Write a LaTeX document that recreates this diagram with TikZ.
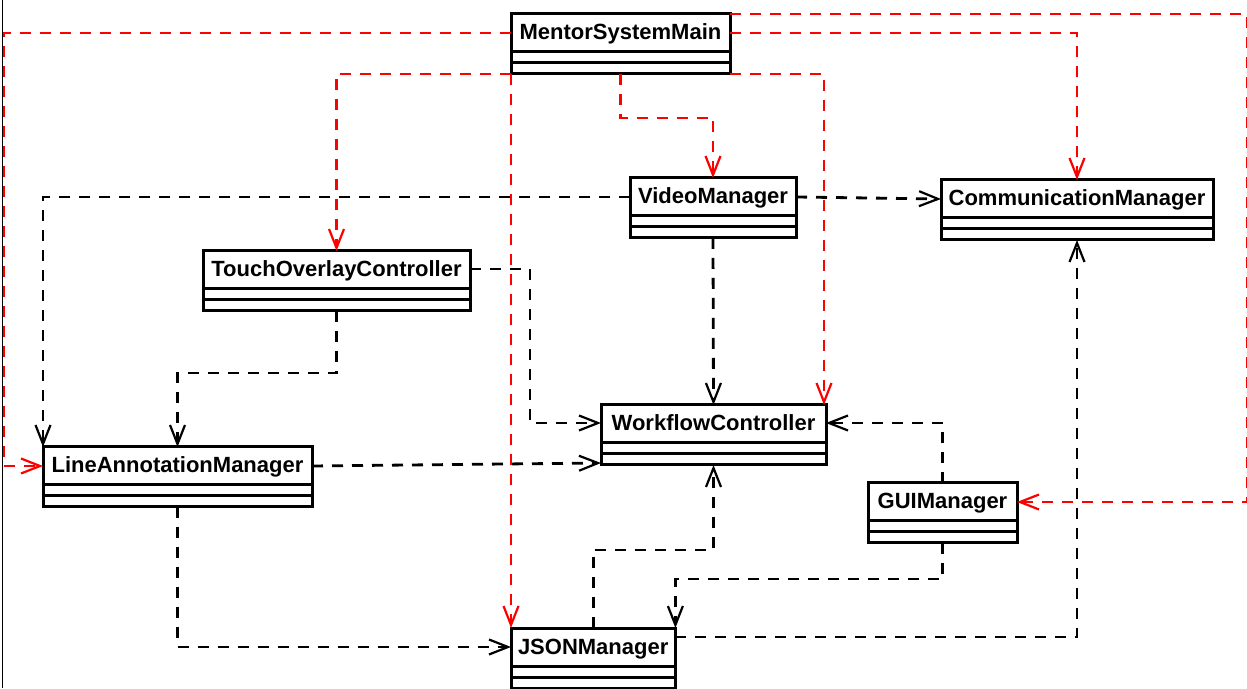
\documentclass[tikz,border=0pt]{standalone}
\usepackage{fontspec}
\setmainfont{Liberation Sans}
\usetikzlibrary{shapes.multipart,arrows.meta}
\newcommand\umlname[1]{\rule[-10.5pt]{0pt}{35pt}#1\nodepart{two}\nodepart{three}}
\tikzset{
    classbox/.style={rectangle split, rectangle split parts=3, draw, line width=3pt,
        inner xsep=7pt, inner ysep=0pt, outer sep=0pt, anchor=north west,
        rectangle split empty part height=8pt, rectangle split empty part depth=0pt,
        font=\fontsize{22}{26}\selectfont\bfseries},
    uses/.style={line width=2.8pt, dash pattern=on 11pt off 9pt,
        -{Straight Barb[length=19pt,width=15pt,line width=2.2pt]}},
    creates/.style={uses, red},
}
\begin{document}
\begin{tikzpicture}[x=1pt,y=1pt]
    \useasboundingbox (0,0) rectangle (1247,688);
    \draw[line width=1pt] (2.5,0) -- (2.5,688);
    %% classes
    \node[classbox, minimum width=219pt] (msm) at (511,674) {\umlname{MentorSystemMain}};
    \node[classbox, minimum width=166pt] (vm) at (630,510) {\umlname{VideoManager}};
    \node[classbox, minimum width=272pt] (cm) at (941,508) {\umlname{CommunicationManager}};
    \node[classbox, minimum width=267pt] (toc) at (203,437) {\umlname{TouchOverlayController}};
    \node[classbox, minimum width=269pt] (lam) at (43,241) {\umlname{LineAnnotationManager}};
    \node[classbox, minimum width=225pt] (wc) at (601,283) {\umlname{WorkflowController}};
    \node[classbox, minimum width=149pt] (gui) at (868,205) {\umlname{GUIManager}};
    \node[classbox, minimum width=162pt] (json) at (511,60) {\umlname{JSONManager}};
    %% dependencies
    \draw[uses] ([yshift=-19pt]vm.north west) -| (lam.north west);
    \draw[uses] ([yshift=-19pt]vm.north east) -- ([yshift=-19pt]cm.north west);
    \draw[uses] (vm.south) -- (wc.north);
    \draw[uses] ([yshift=-18pt]toc.north east) -- ++(60,0) |- ([yshift=-18pt]wc.north west);
    \draw[uses] (toc.south) -- ++(0,-62) -| (lam.north);
    \draw[uses] ([yshift=-19pt]lam.north east) -- ([yshift=2pt]wc.south west);
    \draw[uses] (lam.south) |- ([yshift=-19pt]json.north west);
    \draw[uses] (json.north) -- ++(0,78) -| (wc.south);
    \draw[uses] (gui.south) -- ++(0,-36) -| (json.north east);
    \draw[uses] (gui.north) |- ([yshift=-18pt]wc.north east);
    \draw[uses] ([yshift=-9pt]json.north east) -| (cm.south);
    %% created by main
    \draw[creates] ([yshift=-19pt]msm.north west) -| (4,222) -- ([yshift=-19pt]lam.north west);
    \draw[creates] (msm.north east) -| (1247.3,186) -- ([yshift=-19pt]gui.north east);
    \draw[creates] ([yshift=-19pt]msm.north east) -| (cm.north);
    \draw[creates] (msm.south) -- ++(0,-44) -| (vm.north);
    \draw[creates] (msm.south east) -| ([xshift=-2pt]wc.north east);
    \draw[creates] (msm.south west) -| (toc.north);
    \draw[creates] (msm.south west) -- (json.north west);
\end{tikzpicture}
\end{document}
